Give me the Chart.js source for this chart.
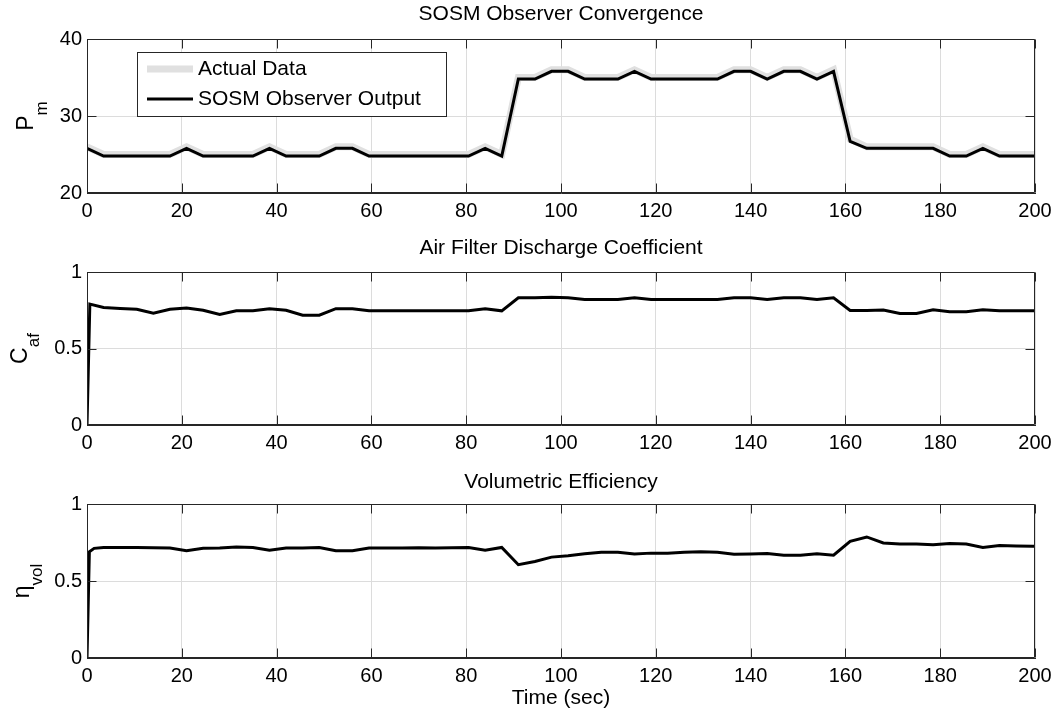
<!DOCTYPE html>
<html>
<head>
<meta charset="utf-8">
<script src="https://cdn.jsdelivr.net/npm/chart.js@4.4.1/dist/chart.umd.min.js"></script>
<style>
  body { margin: 0; background: #fff; }
  canvas { position: absolute; left: 0; display: block; }
</style>
</head>
<body>
<canvas id="c1" width="1062" height="234" style="top:0"></canvas>
<canvas id="c2" width="1062" height="234" style="top:234px"></canvas>
<canvas id="c3" width="1062" height="248" style="top:468px"></canvas>
<script>
// sample times (sec)
const timeP = [0, 3.5, 7, 10.5, 14, 17.5, 21, 24.5, 28, 31.5, 35, 38.5, 42, 45.5, 49, 52.5, 56, 59.5,
  63, 66.5, 70, 73.5, 77, 80.5, 84, 87.5, 91, 94.5, 98, 101.5, 105, 108.5, 112, 115.5, 119, 122.5,
  126, 129.5, 133, 136.5, 140, 143.5, 147, 150.5, 154, 157.5, 161, 164.5, 168, 171.5, 175, 178.5,
  182, 185.5, 189, 192.5, 196, 199.5, 200];

// manifold pressure
const pmActual = [26, 25, 25, 25, 25, 25, 26, 25, 25, 25, 25, 26, 25, 25, 25, 26, 26, 25,
  25, 25, 25, 25, 25, 25, 26, 25, 35, 35, 36, 36, 35, 35, 35, 36, 35, 35,
  35, 35, 35, 36, 36, 35, 36, 36, 35, 36, 27, 26, 26, 26, 26, 26,
  25, 25, 26, 25, 25, 25, 25];
const pmObserver = [25.8, 24.8, 24.8, 24.8, 24.8, 24.8, 25.8, 24.8, 24.8, 24.8, 24.8, 25.8, 24.8, 24.8, 24.8, 25.8, 25.8, 24.8,
  24.8, 24.8, 24.8, 24.8, 24.8, 24.8, 25.8, 24.8, 34.8, 34.8, 35.8, 35.8, 34.8, 34.8, 34.8, 35.8, 34.8, 34.8,
  34.8, 34.8, 34.8, 35.8, 35.8, 34.8, 35.8, 35.8, 34.8, 35.8, 26.7, 25.8, 25.8, 25.8, 25.8, 25.8,
  24.8, 24.8, 25.8, 24.8, 24.8, 24.8, 24.8];

// air filter discharge coefficient
const timeC = [0, 0.6, 3.5, 7, 10.5, 14, 17.5, 21, 24.5, 28, 31.5, 35, 38.5, 42, 45.5, 49, 52.5, 56, 59.5,
  63, 66.5, 70, 73.5, 77, 80.5, 84, 87.5, 91, 94.5, 98, 101.5, 105, 108.5, 112, 115.5, 119, 122.5,
  126, 129.5, 133, 136.5, 140, 143.5, 147, 150.5, 154, 157.5, 161, 164.5, 168, 171.5, 175, 178.5,
  182, 185.5, 189, 192.5, 196, 199.5, 200];
const cafObserver = [0, 0.79, 0.768, 0.762, 0.757, 0.731, 0.757, 0.764, 0.75, 0.722, 0.746, 0.746, 0.76, 0.75, 0.718, 0.718, 0.76, 0.76, 0.746,
  0.746, 0.746, 0.746, 0.746, 0.746, 0.746, 0.76, 0.746, 0.831, 0.831, 0.835, 0.831, 0.821, 0.821, 0.821, 0.831, 0.821, 0.821,
  0.821, 0.821, 0.821, 0.831, 0.831, 0.82, 0.831, 0.831, 0.82, 0.831, 0.749, 0.749, 0.751, 0.729, 0.729, 0.753,
  0.74, 0.74, 0.753, 0.746, 0.746, 0.746, 0.746];

// volumetric efficiency
const timeV = [0, 0.5, 1.5, 3.5, 7, 10.5, 14, 17.5, 21, 24.5, 28, 31.5, 35, 38.5, 42, 45.5, 49, 52.5, 56, 59.5,
  63, 66.5, 70, 73.5, 77, 80.5, 84, 87.5, 91, 94.5, 98, 101.5, 105, 108.5, 112, 115.5, 119, 122.5,
  126, 129.5, 133, 136.5, 140, 143.5, 147, 150.5, 154, 157.5, 161, 164.5, 168, 171.5, 175, 178.5,
  182, 185.5, 189, 192.5, 196, 199.5, 200];
const etaObserver = [0, 0.69, 0.712, 0.718, 0.718, 0.717, 0.716, 0.714, 0.697, 0.712, 0.714, 0.72, 0.718, 0.70, 0.714, 0.714, 0.718, 0.697, 0.697, 0.714,
  0.714, 0.714, 0.716, 0.714, 0.716, 0.718, 0.70, 0.718, 0.606, 0.627, 0.655, 0.664, 0.677, 0.686, 0.686, 0.675, 0.681, 0.681,
  0.686, 0.69, 0.686, 0.673, 0.675, 0.679, 0.668, 0.668, 0.677, 0.668, 0.757, 0.786, 0.747, 0.74, 0.74, 0.736,
  0.744, 0.74, 0.718, 0.731, 0.728, 0.725, 0.725];

const legendLabels = ['Actual Data', 'SOSM Observer Output'];
const FONT = "'Liberation Sans', Arial, sans-serif";

const pts = (t, v) => t.map((x, i) => ({ x: x, y: v[i] }));

// box, inward ticks, title, y label, legend
const matlabAxes = {
    id: 'matlab_axes',
    afterDraw: (chart, args, o) => {
        const { ctx, chartArea: a, scales } = chart;
        const L = Math.round(a.left) + 0.5, R = Math.round(a.right) - 0.5;
        const T = Math.round(a.top) + 0.5, B = Math.round(a.bottom) - 0.5;
        ctx.save();
        ctx.strokeStyle = '#262626';
        ctx.lineWidth = 1;
        ctx.beginPath();
        ctx.moveTo(L, T); ctx.lineTo(R, T); ctx.lineTo(R, B); ctx.lineTo(L, B); ctx.closePath();
        scales.x.ticks.forEach(t => {
            const px = Math.round(scales.x.getPixelForValue(t.value)) + 0.5;
            ctx.moveTo(px, B); ctx.lineTo(px, B - 9);
            ctx.moveTo(px, T); ctx.lineTo(px, T + 9);
        });
        scales.y.ticks.forEach(t => {
            const py = Math.round(scales.y.getPixelForValue(t.value)) + 0.5;
            ctx.moveTo(L, py); ctx.lineTo(L + 9, py);
            ctx.moveTo(R, py); ctx.lineTo(R - 9, py);
        });
        ctx.stroke();

        // title
        ctx.fillStyle = '#000';
        ctx.font = `${o.titleSize}px ${FONT}`;
        ctx.textAlign = 'center';
        ctx.textBaseline = 'middle';
        ctx.fillText(o.title, (a.left + a.right) / 2, o.titleY);

        // y label with subscript, rotated
        ctx.save();
        ctx.translate(0, (a.top + a.bottom) / 2);
        ctx.rotate(-Math.PI / 2);
        ctx.textAlign = 'left';
        ctx.textBaseline = 'alphabetic';
        ctx.font = `${o.mainSize}px ${FONT}`;
        const wm = ctx.measureText(o.ylabel[0]).width;
        ctx.font = `${o.subSize}px ${FONT}`;
        const ws = ctx.measureText(o.ylabel[1]).width;
        const x0 = -(wm + ws) / 2;
        ctx.font = `${o.mainSize}px ${FONT}`;
        ctx.fillText(o.ylabel[0], x0, o.mainBase);
        ctx.font = `${o.subSize}px ${FONT}`;
        ctx.fillText(o.ylabel[1], x0 + wm, o.subBase);
        ctx.restore();

        if (o.legend) {
            const lx = 137.5, ly = 52.5, lw = 309, lh = 64;
            ctx.fillStyle = '#fff';
            ctx.fillRect(lx, ly, lw, lh);
            ctx.strokeStyle = '#262626';
            ctx.strokeRect(lx, ly, lw, lh);
            const rows = [69, 99];
            chart.data.datasets.forEach((ds, i) => {
                ctx.strokeStyle = ds.borderColor;
                ctx.lineWidth = ds.borderWidth;
                ctx.beginPath();
                ctx.moveTo(147, rows[i]); ctx.lineTo(193, rows[i]);
                ctx.stroke();
                ctx.fillStyle = '#000';
                ctx.font = `${o.legendSize}px ${FONT}`;
                ctx.textAlign = 'left';
                ctx.textBaseline = 'middle';
                ctx.fillText(legendLabels[i], 198, rows[i]);
            });
        }
        ctx.restore();
    }
};

function makePanel(id, datasets, yMin, yMax, yStep, xHeight, padTop, showXTitle, axesOpts) {
    return new Chart(document.getElementById(id), {
        type: 'line',
        data: { datasets: datasets },
        options: {
            responsive: false,
            animation: false,
            events: [],
            layout: { padding: { top: padTop, right: 27, bottom: 0, left: 0 } },
            elements: { point: { radius: 0 }, line: { tension: 0 } },
            scales: {
                x: {
                    type: 'linear', min: 0, max: 200,
                    ticks: { stepSize: 20, color: '#000', font: { family: FONT, size: 20 }, padding: 6, maxRotation: 0 },
                    grid: { color: '#dcdcdc', drawTicks: false },
                    border: { display: true, color: '#262626' },
                    title: { display: showXTitle, text: 'Time (sec)', color: '#000', font: { family: FONT, size: 21 }, padding: { top: 0, bottom: 5 } },
                    afterFit: s => { s.height = xHeight; }
                },
                y: {
                    min: yMin, max: yMax,
                    ticks: { stepSize: yStep, color: '#000', font: { family: FONT, size: 20 }, padding: 5, callback: v => String(v) },
                    grid: { color: '#dcdcdc', drawTicks: false },
                    border: { display: true, color: '#262626' },
                    afterFit: s => { s.width = 87; }
                }
            },
            plugins: {
                legend: { display: false },
                tooltip: { enabled: false },
                matlab_axes: axesOpts
            }
        },
        plugins: [matlabAxes]
    });
}

const common = { titleSize: 21, titleY: 14, mainSize: 23, subSize: 17, legendSize: 21 };

makePanel('c1', [
    { data: pts(timeP, pmActual), borderColor: '#e0e0e0', borderWidth: 7, order: 2 },
    { data: pts(timeP, pmObserver), borderColor: '#000', borderWidth: 3, order: 1 }
], 20, 40, 10, 41, 39, false,
    Object.assign({}, common, { title: 'SOSM Observer Convergence', ylabel: ['P', 'm'], mainBase: 33, subBase: 47, legend: true }));

makePanel('c2', [
    { data: pts(timeC, cafObserver), borderColor: '#000', borderWidth: 3 }
], 0, 1, 0.5, 43, 38, false,
    Object.assign({}, common, { title: 'Air Filter Discharge Coefficient', ylabel: ['C', 'af'], mainBase: 27, subBase: 39, legend: false }));

makePanel('c3', [
    { data: pts(timeV, etaObserver), borderColor: '#000', borderWidth: 3 }
], 0, 1, 0.5, 58, 36, true,
    Object.assign({}, common, { title: 'Volumetric Efficiency', ylabel: ['\u03b7', 'vol'], mainBase: 29, subBase: 42, legend: false }));
</script>
</body>
</html>
